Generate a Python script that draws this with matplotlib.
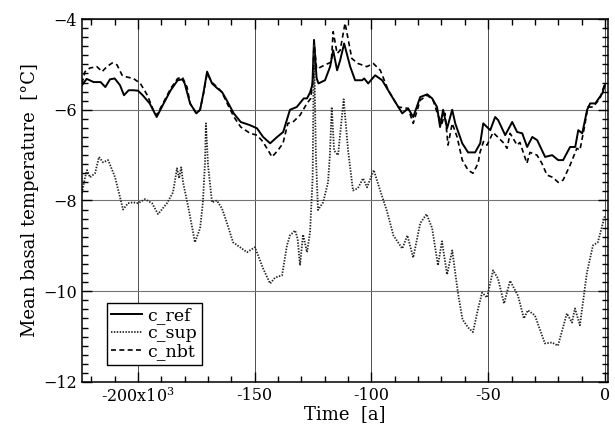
import numpy as np
import matplotlib
matplotlib.use("Agg")
import matplotlib.pyplot as plt
from matplotlib.ticker import MultipleLocator, FixedLocator, FixedFormatter

# values (time in ka, temperature in degC)
t_ref = [-224, -222, -219, -216, -214, -212, -210, -207.7, -206, -204, -202, -200,
         -198, -195, -192, -189, -186, -183, -181, -180, -177.7, -175, -173.4, -172,
         -170.4, -168.3, -166, -164, -162, -159, -156, -152, -149, -146.4, -143.4,
         -140.4, -137.8, -134.9, -132, -129, -127.6, -126.3, -125.3, -124.6, -123.5,
         -122.7, -119.9, -117.7, -116.4, -114.7, -113.4, -111.7, -109.1, -107, -104,
         -103.1, -101.4, -98.4, -95.4, -91.1, -86.8, -84.3, -82.1, -79.1, -76.1, -74,
         -71.9, -70.6, -69.3, -67.6, -65.4, -64.1, -61.1, -58.6, -55.6, -53.4, -52.1,
         -49.1, -47, -45.7, -42.7, -39.7, -37.6, -35.4, -33.3, -31.1, -29, -25.6,
         -22.6, -20, -17.9, -14.9, -12.7, -11.4, -9.7, -7.6, -6.3, -4.1, -1.1, 0]
c_ref = [-5.46, -5.32, -5.39, -5.39, -5.50, -5.33, -5.31, -5.46, -5.68, -5.57, -5.57, -5.58,
         -5.68, -5.86, -6.16, -5.86, -5.57, -5.35, -5.33, -5.42, -5.86, -6.08, -6.00, -5.64,
         -5.16, -5.42, -5.53, -5.61, -5.79, -6.08, -6.27, -6.34, -6.41, -6.60, -6.74,
         -6.60, -6.49, -6.00, -5.94, -5.75, -5.75, -5.62, -5.45, -4.46, -5.30,
         -5.42, -5.35, -5.05, -4.69, -5.13, -4.91, -4.54, -5.05, -5.35, -5.35,
         -5.31, -5.42, -5.24, -5.35, -5.72, -6.08, -5.97, -6.16, -5.72, -5.66, -5.75,
         -5.94, -6.38, -6.00, -6.41, -6.00, -6.30, -6.74, -6.94, -6.94, -6.74, -6.30,
         -6.45, -6.16, -6.23, -6.56, -6.27, -6.49, -6.52, -6.82, -6.60, -6.67, -7.04,
         -7.00, -7.11, -7.11, -6.82, -6.82, -6.45, -6.52, -6.00, -5.86, -5.86, -5.64, -5.46]

t_sup = [-224, -222.7, -221.8, -220.6, -218.4, -216.7, -215, -212.8, -209.8, -207.7,
         -206.4, -204.3, -202.1, -200, -197, -194, -191.4, -187.6, -185, -183.3, -182.4,
         -181.5, -180.7, -178.6, -175.6, -173.4, -172.2, -171.3, -170.9, -170, -168.3,
         -166.2, -164, -162, -159.3, -156.3, -153.3, -149.9, -146.4, -143.4, -141.3,
         -138.3, -136.2, -134.9, -133.5, -132.7, -131.6, -130.6, -129.3, -127.6, -126.3,
         -125.2, -124.6, -123.8, -122.9, -120.7, -118.6, -117.8, -117, -116, -114.3,
         -111.9, -110, -107.9, -105.8, -103.6, -101.9, -99, -97, -93.2, -90.6, -86.8,
         -84.6, -82.1, -79.1, -76.4, -74, -71.5, -69.8, -67.6, -65.4, -62.9, -61, -58.6,
         -56.5, -54.3, -52.6, -50.5, -47.9, -45.8, -43.2, -40.6, -37.2, -34.7, -33, -30,
         -25.7, -22.7, -20.1, -16.3, -14.1, -12.8, -10.7, -7.7, -5.1, -3, 0]
c_sup = [-7.84, -7.49, -7.33, -7.49, -7.40, -7.04, -7.16, -7.11, -7.49, -7.93,
         -8.20, -8.06, -8.04, -8.06, -7.97, -8.06, -8.30, -8.06, -7.82, -7.29, -7.51,
         -7.27, -7.60, -8.11, -8.92, -8.61, -8.04, -7.16, -6.30, -7.22, -8.04,
         -8.00, -8.18, -8.48, -8.92, -9.03, -9.14, -9.03, -9.50, -9.83, -9.70,
         -9.65, -8.99, -8.77, -8.70, -8.66, -8.85, -9.43, -8.75, -9.14, -8.70,
         -7.50, -4.50, -7.00, -8.21, -8.04, -7.60, -7.00, -5.94, -6.90, -7.00,
         -5.77, -6.90, -7.78, -7.73, -7.51, -7.71, -7.33, -7.66, -8.26, -8.77, -9.06,
         -8.77, -9.26, -8.50, -8.30, -8.61, -9.43, -8.90, -9.63, -9.10, -10.05, -10.62, -10.80,
         -10.90, -10.38, -10.03, -10.14, -9.54, -9.72, -10.27, -9.77, -10.10, -10.60, -10.42, -10.53,
         -11.15, -11.13, -11.20, -10.49, -10.69, -10.38, -10.75, -9.59, -8.99, -8.92, -8.33]

t_nbt = [-224, -222.7, -220.6, -217.6, -215.4, -213.3, -211.1, -209, -206.8, -204.7,
         -202, -199, -196, -193.5, -192, -189, -186, -183, -181, -179, -177.7, -175,
         -173.4, -172, -170.4, -168.3, -166, -164, -162, -159, -156, -152, -149, -146.4,
         -142.6, -140, -137.9, -135.8, -133.6, -130.6, -127.6, -126, -125, -124.6, -123.5,
         -122.5, -119.9, -117.2, -116.4, -114.7, -113.4, -111.3, -108.4, -105.8, -102,
         -99.2, -96.2, -92.8, -88.5, -84.3, -82.1, -79.1, -76.1, -73.6, -71.5, -69.8,
         -68.5, -67.2, -65.4, -63.3, -61.1, -58.6, -56.5, -54.3, -53.5, -52, -50.5, -47.9,
         -43.6, -41.9, -40.6, -37.6, -36.4, -33.4, -32.1, -29.1, -27, -24.8, -22.3, -20,
         -17.9, -14.9, -12, -10.7, -8.6, -7.3, -5.1, -2.1, 0]
c_nbt = [-5.42, -5.16, -5.08, -5.05, -5.16, -5.05, -4.97, -5.01, -5.24, -5.28,
         -5.31, -5.42, -5.68, -6.00, -6.12, -5.83, -5.53, -5.31, -5.28, -5.50, -5.86, -6.08,
         -6.00, -5.66, -5.20, -5.40, -5.50, -5.62, -5.84, -6.15, -6.38, -6.52, -6.56, -6.71,
         -7.04, -6.89, -6.74, -6.30, -6.27, -6.12, -5.86, -5.75, -5.30, -4.50, -5.10,
         -5.08, -5.01, -4.95, -4.28, -4.76, -4.69, -4.09, -4.87, -4.98, -5.05,
         -4.98, -5.13, -5.57, -5.94, -5.97, -6.30, -5.79, -5.68, -5.79, -6.12, -6.30,
         -6.08, -6.78, -6.30, -6.60, -7.11, -7.33, -7.40, -7.18, -6.94, -6.70, -6.78, -6.50,
         -6.72, -6.85, -6.52, -6.78, -6.72, -7.18, -6.94, -7.00, -7.18, -7.44, -7.49, -7.60,
         -7.55, -7.22, -6.85, -6.89, -6.34, -5.94, -5.94, -5.75, -5.42]

x_ticks = [-200, -150, -100, -50, 0]
x_labels = ["-200x10$^3$", "-150", "-100", "-50", "0"]
y_ticks = [-12, -10, -8, -6, -4]

plt.rcParams['font.family'] = ['DejaVu Serif']
plt.rcParams['mathtext.fontset'] = 'dejavuserif'

fig = plt.figure(figsize=(6.15, 4.36), dpi=100)
ax = fig.add_axes([0.1333, 0.1239, 0.8548, 0.8325])

ax.plot(t_ref, c_ref, color='black', lw=1.4, label='c_ref')
ax.plot(t_sup, c_sup, color='0.15', lw=1.3, linestyle=(0, (0.8, 0.8)), label='c_sup')
ax.plot(t_nbt, c_nbt, color='black', lw=1.2, linestyle=(0, (3, 2)), label='c_nbt')

ax.set_xlim(-224, 1.2)
ax.set_ylim(-12, -4)

ax.xaxis.set_major_locator(FixedLocator(x_ticks))
ax.xaxis.set_major_formatter(FixedFormatter(x_labels))
ax.xaxis.set_minor_locator(MultipleLocator(10))
ax.set_yticks(y_ticks)
ax.yaxis.set_minor_locator(MultipleLocator(0.2))

ax.tick_params(which='both', direction='in', top=True, right=True, labelsize=11.5, width=1)
ax.tick_params(which='major', length=7)
ax.tick_params(which='minor', length=4)

ax.grid(axis='x', which='major', color='0.3', lw=0.7)
ax.grid(axis='y', which='major', color='0.45', lw=0.8)

for s in ax.spines.values():
    s.set_linewidth(1.1)

ax.set_xlabel("Time  [a]", fontsize=13, labelpad=0)
ax.set_ylabel("Mean basal temperature  [°C]", fontsize=13, labelpad=3)

leg = ax.legend(loc='lower left', bbox_to_anchor=(0.047, 0.048), fontsize=12.5,
                frameon=True, fancybox=False, handlelength=1.8, handletextpad=0.3,
                borderpad=0.25, labelspacing=0.05, borderaxespad=0)
leg.get_frame().set_edgecolor('black')
leg.get_frame().set_linewidth(1.0)
leg.get_frame().set_alpha(1)

fig.savefig("out.png", dpi=100)
